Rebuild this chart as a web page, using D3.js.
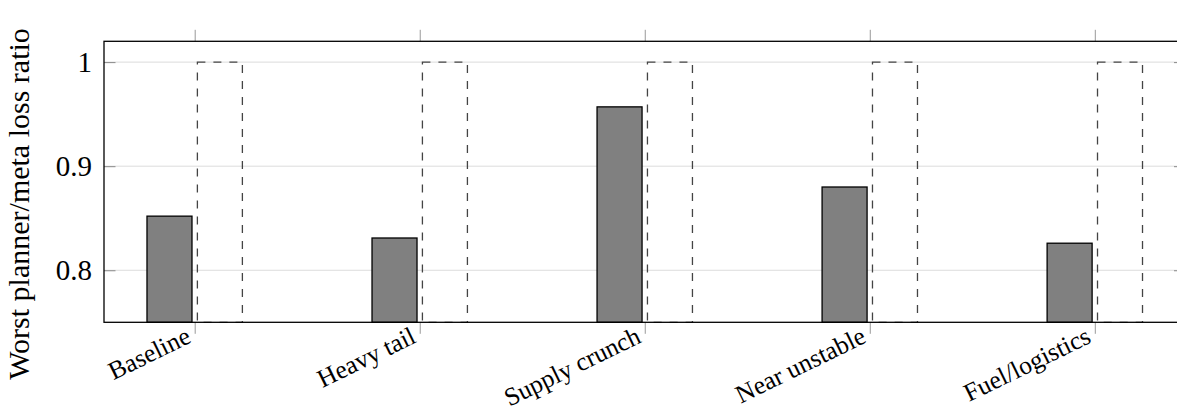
<!DOCTYPE html>
<html>
<head>
<meta charset="utf-8">
<script src="https://cdn.jsdelivr.net/npm/d3@7"></script>
<style>
  html, body { margin: 0; padding: 0; background: #fff; }
  svg { display: block; }
  text { font-family: "Liberation Serif", "Times New Roman", serif; fill: #000; }
</style>
</head>
<body>
<svg id="chart" width="1177" height="411"></svg>
<script>
const categories = ["Baseline", "Heavy tail", "Supply crunch", "Near unstable", "Fuel/logistics"];
const ratioValues = [0.852, 0.831, 0.957, 0.880, 0.826];
const referenceValues = [1, 1, 1, 1, 1];
const yTicks = [0.8, 0.9, 1];
const yTickLabels = ["0.8", "0.9", "1"];
const yLabel = "Worst planner/meta loss ratio";

const svg = d3.select("#chart");
const plot = { left: 104, right: 1185.5, top: 41.3, bottom: 322.3 };

const x = d3.scalePoint()
  .domain(categories)
  .range([plot.left, plot.right])
  .padding(0.403);

const y = d3.scaleLinear()
  .domain([0.75, 1.02])
  .range([plot.bottom, plot.top]);

const barW = 45;
const off = 25.2;

// grid lines
svg.append("g").selectAll("line").data(yTicks).join("line")
  .attr("x1", plot.left).attr("x2", plot.right)
  .attr("y1", d => y(d)).attr("y2", d => y(d))
  .attr("stroke", "#dcdcdc").attr("stroke-width", 1);

// solid bars
svg.append("g").selectAll("rect").data(categories).join("rect")
  .attr("x", d => x(d) - off - barW / 2)
  .attr("width", barW)
  .attr("y", (d, i) => y(ratioValues[i]))
  .attr("height", (d, i) => plot.bottom - y(ratioValues[i]))
  .attr("fill", "#808080")
  .attr("stroke", "#000")
  .attr("stroke-width", 1.3);

// dashed reference bars
svg.append("g").selectAll("rect").data(categories).join("rect")
  .attr("x", d => x(d) + off - barW / 2)
  .attr("width", barW)
  .attr("y", (d, i) => y(referenceValues[i]))
  .attr("height", (d, i) => plot.bottom - y(referenceValues[i]))
  .attr("fill", "none")
  .attr("stroke", "#444")
  .attr("stroke-width", 1.3)
  .attr("stroke-dasharray", "8,8");

// y axis ticks (inside, left and right)
const yAxisL = d3.axisRight(y).tickValues(yTicks).tickSize(11.5).tickFormat("");
const gyl = svg.append("g").attr("transform", `translate(${plot.left},0)`).call(yAxisL);
gyl.select(".domain").remove();
gyl.selectAll(".tick line").attr("stroke", "#888").attr("stroke-width", 1);

const yAxisR = d3.axisLeft(y).tickValues(yTicks).tickSize(11.5).tickFormat("");
const gyr = svg.append("g").attr("transform", `translate(${plot.right},0)`).call(yAxisR);
gyr.select(".domain").remove();
gyr.selectAll(".tick line").attr("stroke", "#888").attr("stroke-width", 1);

// y tick labels
svg.append("g").selectAll("text").data(yTicks).join("text")
  .attr("x", plot.left - 12)
  .attr("y", d => y(d))
  .attr("dy", "0.33em")
  .attr("text-anchor", "end")
  .attr("font-size", 29)
  .text((d, i) => yTickLabels[i]);

// x ticks (outside, top and bottom)
const xAxisB = d3.axisBottom(x).tickSize(11.5).tickFormat("");
const gxb = svg.append("g").attr("transform", `translate(0,${plot.bottom})`).call(xAxisB);
gxb.select(".domain").remove();
gxb.selectAll(".tick line").attr("stroke", "#999").attr("stroke-width", 1);

const xAxisT = d3.axisTop(x).tickSize(11.5).tickFormat("");
const gxt = svg.append("g").attr("transform", `translate(0,${plot.top})`).call(xAxisT);
gxt.select(".domain").remove();
gxt.selectAll(".tick line").attr("stroke", "#999").attr("stroke-width", 1);

// frame
svg.append("rect")
  .attr("x", plot.left).attr("y", plot.top)
  .attr("width", plot.right - plot.left).attr("height", plot.bottom - plot.top)
  .attr("fill", "none").attr("stroke", "#000").attr("stroke-width", 1.3);

// x labels rotated
svg.append("g").selectAll("text").data(categories).join("text")
  .attr("transform", d => `translate(${x(d) - 6},${plot.bottom + 12}) rotate(-26)`)
  .attr("text-anchor", "end")
  .attr("dy", "0.33em")
  .attr("font-size", 25.5)
  .text(d => d);

// y label
svg.append("text")
  .attr("transform", `translate(29,204) rotate(-90)`)
  .attr("text-anchor", "middle")
  .attr("font-size", 30)
  .text(yLabel);
</script>
</body>
</html>
